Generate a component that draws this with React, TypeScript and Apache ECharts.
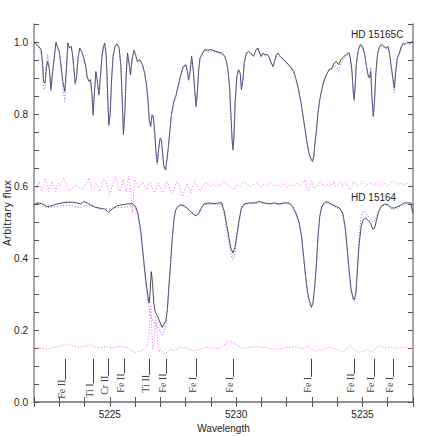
import React, { useEffect, useRef } from 'react';
import * as echarts from 'echarts';

const X_MIN = 5222;
const X_MAX = 5237;
const Y_MIN = 0;
const Y_MAX = 1.05;
const xTickLabels = [5225, 5230, 5235];
const yTickLabels = [0.0, 0.2, 0.4, 0.6, 0.8, 1.0];

// [wavelength, observed, model]
const hd15165c: [number, number, number][] = [
  [5222.00,1.000,0.998],[5222.19,0.988,0.985],[5222.28,0.979,0.970],[5222.34,0.942,0.930],
  [5222.38,0.891,0.868],[5222.44,0.886,0.872],[5222.49,0.928,0.940],[5222.54,0.946,0.965],
  [5222.61,0.923,0.925],[5222.67,0.869,0.862],[5222.74,0.918,0.915],[5222.82,0.969,0.965],
  [5222.87,0.999,0.990],[5222.94,0.983,0.985],[5223.00,0.974,0.972],[5223.08,0.928,0.920],
  [5223.15,0.886,0.870],[5223.22,0.863,0.835],[5223.28,0.923,0.915],[5223.34,0.997,0.990],
  [5223.40,0.983,0.986],[5223.47,0.988,0.985],[5223.52,0.969,0.966],[5223.57,0.932,0.928],
  [5223.63,0.886,0.880],[5223.68,0.900,0.902],[5223.75,0.960,0.958],[5223.81,0.983,0.980],
  [5223.88,0.974,0.976],[5223.97,0.956,0.952],[5224.05,0.932,0.930],[5224.10,0.905,0.900],
  [5224.17,0.891,0.893],[5224.24,0.895,0.890],[5224.29,0.858,0.850],[5224.34,0.798,0.795],
  [5224.39,0.858,0.862],[5224.45,0.918,0.915],[5224.50,0.895,0.893],[5224.57,0.854,0.850],
  [5224.62,0.895,0.898],[5224.69,0.960,0.957],[5224.75,0.988,0.985],[5224.80,0.997,0.994],
  [5224.86,0.960,0.955],[5224.91,0.867,0.862],[5224.96,0.770,0.765],[5225.02,0.803,0.806],
  [5225.07,0.895,0.892],[5225.13,0.960,0.962],[5225.21,0.988,0.986],[5225.29,0.995,0.992],
  [5225.37,0.983,0.980],[5225.44,0.932,0.928],[5225.49,0.840,0.835],[5225.54,0.743,0.740],
  [5225.60,0.812,0.815],[5225.65,0.914,0.910],[5225.70,0.969,0.965],[5225.77,0.937,0.935],
  [5225.82,0.909,0.906],[5225.89,0.956,0.958],[5225.96,0.977,0.974],[5226.02,0.965,0.962],
  [5226.09,0.946,0.948],[5226.19,0.951,0.947],[5226.29,0.937,0.934],[5226.38,0.914,0.910],
  [5226.46,0.877,0.874],[5226.52,0.831,0.828],[5226.56,0.784,0.780],[5226.62,0.766,0.762],
  [5226.67,0.798,0.795],[5226.72,0.794,0.790],[5226.78,0.747,0.745],[5226.83,0.692,0.690],
  [5226.88,0.664,0.660],[5226.93,0.701,0.698],[5226.99,0.733,0.730],[5227.04,0.729,0.727],
  [5227.09,0.692,0.688],[5227.14,0.655,0.652],[5227.21,0.645,0.642],[5227.26,0.673,0.670],
  [5227.32,0.710,0.707],[5227.38,0.756,0.752],[5227.44,0.798,0.795],[5227.52,0.831,0.828],
  [5227.61,0.849,0.846],[5227.70,0.877,0.872],[5227.81,0.909,0.905],[5227.91,0.932,0.930],
  [5228.01,0.937,0.934],[5228.07,0.918,0.915],[5228.12,0.895,0.890],[5228.18,0.918,0.920],
  [5228.24,0.960,0.955],[5228.31,0.918,0.915],[5228.36,0.867,0.862],[5228.42,0.821,0.818],
  [5228.47,0.867,0.870],[5228.52,0.923,0.920],[5228.57,0.956,0.953],[5228.67,0.969,0.966],
  [5228.76,0.979,0.976],[5228.87,0.977,0.974],[5229.00,0.979,0.976],[5229.20,0.974,0.971],
  [5229.43,0.969,0.966],[5229.56,0.960,0.957],[5229.66,0.932,0.928],[5229.74,0.877,0.872],
  [5229.79,0.803,0.798],[5229.84,0.729,0.725],[5229.88,0.701,0.698],[5229.92,0.747,0.744],
  [5229.96,0.831,0.828],[5230.03,0.905,0.902],[5230.09,0.923,0.920],[5230.16,0.914,0.912],
  [5230.21,0.868,0.872],[5230.27,0.895,0.898],[5230.32,0.942,0.940],[5230.40,0.969,0.966],
  [5230.49,0.974,0.972],[5230.58,0.969,0.967],[5230.69,0.960,0.962],[5230.79,0.979,0.975],
  [5230.87,0.983,0.980],[5230.93,0.969,0.966],[5230.99,0.960,0.958],[5231.06,0.969,0.966],
  [5231.15,0.965,0.962],[5231.24,0.965,0.963],[5231.32,0.956,0.953],[5231.39,0.942,0.938],
  [5231.46,0.932,0.930],[5231.52,0.946,0.944],[5231.59,0.965,0.962],[5231.66,0.969,0.966],
  [5231.75,0.960,0.958],[5231.88,0.951,0.948],[5232.01,0.942,0.940],[5232.14,0.932,0.930],
  [5232.28,0.918,0.915],[5232.38,0.895,0.892],[5232.47,0.868,0.865],[5232.57,0.831,0.828],
  [5232.65,0.794,0.790],[5232.73,0.756,0.752],[5232.81,0.719,0.716],[5232.88,0.692,0.688],
  [5232.96,0.675,0.672],[5233.02,0.669,0.666],[5233.07,0.682,0.679],[5233.12,0.719,0.716],
  [5233.18,0.756,0.753],[5233.24,0.803,0.800],[5233.31,0.840,0.837],[5233.39,0.868,0.866],
  [5233.47,0.891,0.888],[5233.57,0.909,0.906],[5233.68,0.923,0.920],[5233.80,0.928,0.925],
  [5233.89,0.942,0.935],[5233.97,0.946,0.930],[5234.06,0.937,0.920],[5234.15,0.951,0.940],
  [5234.26,0.960,0.955],[5234.37,0.965,0.962],[5234.47,0.971,0.968],[5234.52,0.956,0.950],
  [5234.58,0.923,0.918],[5234.63,0.868,0.862],[5234.67,0.840,0.835],[5234.71,0.877,0.874],
  [5234.76,0.942,0.940],[5234.84,0.979,0.976],[5234.92,0.993,0.990],[5235.00,0.988,0.985],
  [5235.08,0.969,0.966],[5235.16,0.932,0.930],[5235.23,0.905,0.906],[5235.28,0.900,0.905],
  [5235.33,0.918,0.930],[5235.37,0.849,0.845],[5235.43,0.794,0.790],[5235.48,0.840,0.836],
  [5235.53,0.914,0.910],[5235.60,0.969,0.966],[5235.68,0.988,0.985],[5235.77,0.993,0.990],
  [5235.85,0.988,0.985],[5235.93,0.983,0.980],[5236.01,0.988,0.985],[5236.07,0.969,0.965],
  [5236.14,0.932,0.928],[5236.21,0.895,0.888],[5236.26,0.872,0.860],[5236.31,0.914,0.910],
  [5236.38,0.956,0.952],[5236.46,0.969,0.966],[5236.54,0.988,0.985],[5236.62,0.997,0.994],
  [5236.69,0.993,0.990],[5236.77,0.999,0.996],[5236.88,0.997,0.994],[5237.00,1.002,0.999],
];

// [wavelength, residual (offset)]
const hd15165cResidual: [number, number][] = [
  [5222.00,0.599],[5222.09,0.594],[5222.19,0.613],[5222.25,0.599],[5222.32,0.585],[5222.38,0.604],
  [5222.45,0.622],[5222.52,0.608],[5222.58,0.585],[5222.65,0.599],[5222.71,0.613],[5222.78,0.599],
  [5222.85,0.585],[5222.94,0.608],[5223.02,0.599],[5223.11,0.613],[5223.18,0.622],[5223.24,0.613],
  [5223.31,0.590],[5223.42,0.585],[5223.51,0.594],[5223.60,0.599],[5223.71,0.604],[5223.81,0.594],
  [5223.90,0.590],[5224.00,0.599],[5224.08,0.608],[5224.17,0.622],[5224.24,0.608],[5224.30,0.585],
  [5224.37,0.590],[5224.45,0.608],[5224.53,0.599],[5224.61,0.585],[5224.69,0.604],[5224.76,0.622],
  [5224.84,0.613],[5224.92,0.594],[5225.00,0.576],[5225.08,0.599],[5225.16,0.613],[5225.24,0.627],
  [5225.32,0.599],[5225.40,0.585],[5225.47,0.599],[5225.53,0.618],[5225.60,0.599],[5225.66,0.585],
  [5225.73,0.627],[5225.80,0.604],[5225.85,0.571],[5225.89,0.525],[5225.93,0.562],[5225.98,0.618],
  [5226.06,0.608],[5226.14,0.594],[5226.22,0.608],[5226.30,0.613],[5226.38,0.599],[5226.46,0.590],
  [5226.54,0.604],[5226.62,0.608],[5226.70,0.590],[5226.78,0.581],[5226.85,0.599],[5226.93,0.608],
  [5227.01,0.594],[5227.09,0.581],[5227.17,0.594],[5227.25,0.613],[5227.33,0.604],[5227.41,0.585],
  [5227.49,0.581],[5227.57,0.599],[5227.65,0.613],[5227.73,0.604],[5227.81,0.581],[5227.89,0.571],
  [5227.96,0.590],[5228.05,0.608],[5228.12,0.594],[5228.20,0.581],[5228.28,0.599],[5228.36,0.613],
  [5228.47,0.599],[5228.57,0.585],[5228.68,0.599],[5228.79,0.608],[5228.89,0.604],[5229.00,0.599],
  [5229.13,0.604],[5229.26,0.599],[5229.39,0.604],[5229.50,0.613],[5229.63,0.604],[5229.76,0.599],
  [5229.90,0.590],[5230.03,0.604],[5230.16,0.599],[5230.29,0.613],[5230.42,0.604],[5230.56,0.599],
  [5230.69,0.604],[5230.82,0.608],[5230.95,0.599],[5231.09,0.604],[5231.22,0.599],[5231.35,0.608],
  [5231.48,0.599],[5231.61,0.604],[5231.75,0.599],[5231.88,0.608],[5232.01,0.594],[5232.14,0.604],
  [5232.28,0.599],[5232.41,0.608],[5232.54,0.599],[5232.67,0.613],[5232.74,0.618],[5232.81,0.594],
  [5232.87,0.585],[5232.94,0.604],[5233.00,0.613],[5233.07,0.594],[5233.20,0.599],[5233.33,0.613],
  [5233.47,0.599],[5233.60,0.604],[5233.73,0.599],[5233.86,0.613],[5233.93,0.599],[5234.00,0.604],
  [5234.13,0.613],[5234.19,0.599],[5234.26,0.608],[5234.39,0.604],[5234.50,0.590],[5234.59,0.599],
  [5234.66,0.613],[5234.72,0.608],[5234.79,0.599],[5234.90,0.604],[5234.99,0.613],[5235.05,0.608],
  [5235.12,0.599],[5235.19,0.604],[5235.32,0.608],[5235.45,0.604],[5235.58,0.608],[5235.72,0.599],
  [5235.85,0.608],[5235.98,0.599],[5236.11,0.608],[5236.24,0.613],[5236.38,0.604],[5236.51,0.608],
  [5236.64,0.604],[5236.77,0.608],[5236.91,0.604],[5237.00,0.601],
];

// [wavelength, observed, model]
const hd15164: [number, number, number][] = [
  [5222.00,0.548,0.546],[5222.12,0.553,0.550],[5222.32,0.551,0.545],[5222.51,0.543,0.540],
  [5222.71,0.545,0.541],[5222.91,0.550,0.543],[5223.11,0.553,0.545],[5223.31,0.555,0.547],
  [5223.51,0.555,0.545],[5223.70,0.553,0.541],[5223.84,0.550,0.540],[5223.97,0.557,0.545],
  [5224.10,0.553,0.547],[5224.23,0.548,0.545],[5224.43,0.541,0.540],[5224.63,0.538,0.535],
  [5224.79,0.536,0.538],[5224.96,0.527,0.536],[5225.09,0.536,0.538],[5225.29,0.545,0.540],
  [5225.49,0.548,0.540],[5225.69,0.550,0.543],[5225.89,0.551,0.546],[5226.02,0.543,0.538],
  [5226.11,0.525,0.520],[5226.22,0.478,0.470],[5226.32,0.410,0.400],[5226.42,0.340,0.330],
  [5226.51,0.293,0.280],[5226.56,0.275,0.258],[5226.60,0.310,0.240],[5226.64,0.362,0.236],
  [5226.69,0.332,0.230],[5226.74,0.275,0.224],[5226.80,0.249,0.218],[5226.88,0.240,0.210],
  [5226.99,0.221,0.196],[5227.07,0.207,0.186],[5227.15,0.217,0.196],[5227.22,0.226,0.218],
  [5227.28,0.258,0.255],[5227.34,0.323,0.320],[5227.41,0.388,0.385],[5227.47,0.455,0.450],
  [5227.54,0.508,0.505],[5227.60,0.532,0.530],[5227.67,0.541,0.540],[5227.81,0.548,0.546],
  [5227.94,0.545,0.543],[5228.07,0.538,0.536],[5228.20,0.529,0.530],[5228.33,0.520,0.523],
  [5228.43,0.517,0.522],[5228.53,0.525,0.528],[5228.62,0.538,0.540],[5228.73,0.550,0.548],
  [5228.93,0.553,0.550],[5229.13,0.551,0.549],[5229.33,0.553,0.550],[5229.42,0.554,0.548],
  [5229.53,0.530,0.522],[5229.63,0.490,0.478],[5229.72,0.455,0.440],[5229.79,0.428,0.410],
  [5229.87,0.414,0.395],[5229.95,0.428,0.412],[5230.03,0.465,0.455],[5230.12,0.506,0.500],
  [5230.21,0.539,0.535],[5230.32,0.550,0.548],[5230.52,0.553,0.551],[5230.72,0.553,0.550],
  [5230.91,0.557,0.553],[5231.11,0.553,0.551],[5231.31,0.551,0.549],[5231.51,0.553,0.550],
  [5231.71,0.550,0.548],[5231.91,0.553,0.551],[5232.10,0.553,0.550],[5232.24,0.543,0.540],
  [5232.37,0.525,0.521],[5232.50,0.497,0.492],[5232.59,0.460,0.455],[5232.67,0.404,0.398],
  [5232.75,0.349,0.342],[5232.83,0.303,0.296],[5232.91,0.279,0.272],[5232.98,0.264,0.262],
  [5233.04,0.275,0.272],[5233.11,0.321,0.318],[5233.18,0.386,0.384],[5233.24,0.460,0.458],
  [5233.31,0.516,0.514],[5233.39,0.543,0.541],[5233.49,0.553,0.550],[5233.60,0.557,0.552],
  [5233.69,0.553,0.549],[5233.82,0.548,0.545],[5233.96,0.543,0.540],[5234.09,0.539,0.535],
  [5234.22,0.525,0.520],[5234.31,0.488,0.482],[5234.39,0.432,0.425],[5234.47,0.367,0.360],
  [5234.55,0.312,0.305],[5234.63,0.289,0.282],[5234.68,0.284,0.280],[5234.74,0.303,0.300],
  [5234.80,0.367,0.372],[5234.87,0.441,0.462],[5234.95,0.488,0.515],[5235.03,0.506,0.530],
  [5235.11,0.511,0.528],[5235.21,0.506,0.518],[5235.32,0.497,0.508],[5235.41,0.480,0.500],
  [5235.48,0.483,0.502],[5235.56,0.506,0.516],[5235.64,0.529,0.532],[5235.74,0.543,0.541],
  [5235.87,0.550,0.547],[5236.01,0.548,0.545],[5236.14,0.539,0.537],[5236.27,0.539,0.536],
  [5236.40,0.543,0.540],[5236.54,0.548,0.545],[5236.67,0.553,0.550],[5236.80,0.553,0.550],
  [5236.91,0.553,0.548],[5237.00,0.525,0.520],
];

const hd15164Residual: [number, number][] = [
  [5222.00,0.152],[5222.25,0.149],[5222.52,0.147],[5222.78,0.152],[5223.04,0.156],[5223.31,0.161],
  [5223.51,0.156],[5223.71,0.152],[5223.97,0.154],[5224.23,0.158],[5224.43,0.152],[5224.63,0.151],
  [5224.90,0.154],[5225.09,0.150],[5225.29,0.154],[5225.49,0.154],[5225.69,0.152],[5225.89,0.142],
  [5226.02,0.138],[5226.22,0.142],[5226.35,0.147],[5226.48,0.152],[5226.55,0.184],[5226.59,0.240],
  [5226.62,0.270],[5226.66,0.200],[5226.70,0.147],[5226.75,0.166],[5226.81,0.240],[5226.88,0.184],
  [5226.95,0.138],[5227.01,0.147],[5227.14,0.133],[5227.28,0.138],[5227.41,0.147],[5227.54,0.142],
  [5227.74,0.150],[5227.94,0.152],[5228.14,0.147],[5228.33,0.142],[5228.60,0.147],[5228.80,0.152],
  [5229.00,0.150],[5229.20,0.149],[5229.39,0.150],[5229.56,0.161],[5229.70,0.170],[5229.83,0.166],
  [5229.96,0.161],[5230.09,0.156],[5230.29,0.149],[5230.56,0.152],[5230.82,0.154],[5231.09,0.152],
  [5231.35,0.149],[5231.61,0.147],[5231.88,0.150],[5232.14,0.152],[5232.41,0.154],[5232.61,0.147],
  [5232.74,0.152],[5232.87,0.156],[5233.00,0.145],[5233.14,0.140],[5233.27,0.145],[5233.40,0.142],
  [5233.53,0.149],[5233.73,0.152],[5233.93,0.147],[5234.13,0.142],[5234.26,0.139],[5234.39,0.149],
  [5234.52,0.156],[5234.66,0.145],[5234.79,0.140],[5234.92,0.138],[5235.05,0.142],[5235.19,0.147],
  [5235.32,0.140],[5235.45,0.142],[5235.58,0.152],[5235.71,0.156],[5235.91,0.150],[5236.11,0.152],
  [5236.38,0.150],[5236.64,0.151],[5236.91,0.149],[5237.00,0.149],
];

// Line identifications
const lineIds = ['Fe II', 'Ti I', 'Cr II', 'Fe II', 'Ti II', 'Fe II', 'Fe I', 'Fe I', 'Fe I', 'Fe II', 'Fe I', 'Fe I'];
const lineWaves = [5223.21, 5224.33, 5224.94, 5225.56, 5226.55, 5227.24, 5228.40, 5229.88, 5232.98, 5234.66, 5235.45, 5236.22];
const lineLabelBase = [0.009, 0.012, 0.02, 0.026, 0.026, 0.026, 0.026, 0.026, 0.026, 0.026, 0.026, 0.026];
const MARK_TOP = 0.12;

const starNames = ['HD 15165C', 'HD 15164'];
const starLabelWave = [5234.55, 5234.55];
const starLabelFlux = [1.02, 0.568];

const LABEL_FONT = '10px "Liberation Serif"';
const SANS = 'Liberation Sans';

let measureCtx: CanvasRenderingContext2D | null = null;
function textWidth(s: string, font: string): number {
  if (!measureCtx) measureCtx = document.createElement('canvas').getContext('2d');
  if (!measureCtx) return s.length * 5;
  measureCtx.font = font;
  return measureCtx.measureText(s).width;
}

const near = (arr: number[], v: number) => arr.some((t) => Math.abs(t - v) < 1e-6);

export default function App() {
  const ref = useRef<HTMLDivElement>(null);
  useEffect(() => {
    if (!ref.current) return;
    const chart = echarts.init(ref.current, null, { renderer: 'svg' });
    const axisLine = { show: true, lineStyle: { color: '#8a8a8a', width: 1.5 } };
    const axisTick = { show: true, inside: true, length: 5, lineStyle: { color: '#555', width: 1 } };
    const xBase = { type: 'value', min: X_MIN, max: X_MAX, interval: 1, splitLine: { show: false } };
    const yBase = { type: 'value', min: Y_MIN, max: Y_MAX, interval: 0.05, splitLine: { show: false } };
    const option: any = {
      animation: false,
      backgroundColor: '#fff',
      grid: { left: 34, right: 23, top: 24, bottom: 34, containLabel: false, outerBoundsMode: 'none' },
      xAxis: [
        {
          ...xBase,
          position: 'bottom',
          axisLine,
          axisTick,
          axisLabel: {
            margin: 7,
            color: '#222',
            fontFamily: SANS,
            fontSize: 10,
            formatter: (v: number) => (near(xTickLabels, v) ? String(Math.round(v)) : ''),
          },
          name: 'Wavelength',
          nameLocation: 'middle',
          nameGap: 21,
          nameMoveOverlap: false,
          nameTextStyle: { color: '#222', fontFamily: SANS, fontSize: 10 },
        },
        { ...xBase, position: 'top', axisLine, axisTick, axisLabel: { show: false } },
      ],
      yAxis: [
        {
          ...yBase,
          position: 'left',
          axisLine,
          axisTick,
          axisLabel: {
            margin: 6,
            color: '#222',
            fontFamily: SANS,
            fontSize: 10,
            formatter: (v: number) => (near(yTickLabels, v) ? v.toFixed(1) : ''),
          },
          name: 'Arbitrary flux',
          nameLocation: 'middle',
          nameGap: 22,
          nameMoveOverlap: false,
          nameTextStyle: { color: '#222', fontFamily: 'DejaVu Sans', fontSize: 10 },
        },
        { ...yBase, position: 'right', axisLine, axisTick, axisLabel: { show: false } },
      ],
      series: [
        {
          type: 'line', name: 'HD 15165C residual', showSymbol: false, silent: true,
          data: hd15165cResidual.map((d) => [d[0], d[1]]),
          lineStyle: { color: '#ff66ff', width: 1, type: [1, 2] },
        },
        {
          type: 'line', name: 'HD 15164 residual', showSymbol: false, silent: true,
          data: hd15164Residual.map((d) => [d[0], d[1]]),
          lineStyle: { color: '#ff66ff', width: 1, type: [1, 2] },
        },
        {
          type: 'line', name: 'HD 15165C observed', showSymbol: false, silent: true,
          data: hd15165c.map((d) => [d[0], d[1]]),
          lineStyle: { color: '#3a3a3a', width: 0.9 },
        },
        {
          type: 'line', name: 'HD 15164 observed', showSymbol: false, silent: true,
          data: hd15164.map((d) => [d[0], d[1]]),
          lineStyle: { color: '#3a3a3a', width: 0.9 },
        },
        {
          type: 'line', name: 'HD 15165C model', showSymbol: false, silent: true,
          data: hd15165c.map((d) => [d[0], d[2]]),
          lineStyle: { color: '#6a6aff', width: 1, type: [1, 2] },
        },
        {
          type: 'line', name: 'HD 15164 model', showSymbol: false, silent: true,
          data: hd15164.map((d) => [d[0], d[2]]),
          lineStyle: { color: '#6a6aff', width: 1, type: [1, 2] },
        },
        {
          type: 'custom', name: 'line ids', silent: true, clip: false,
          coordinateSystem: 'cartesian2d',
          data: lineWaves.map((w, i) => [w, lineLabelBase[i]]),
          encode: { x: 0, y: 1 },
          renderItem: (params: any, api: any) => {
            const i = params.dataIndex;
            const w = api.value(0);
            const top = api.coord([w, MARK_TOP]);
            const base = api.coord([w, api.value(1)]);
            const label = lineIds[i];
            const tw = textWidth(label, LABEL_FONT);
            const x = Math.round(top[0]) + 0.5;
            return {
              type: 'group',
              children: [
                {
                  type: 'line',
                  shape: { x1: x, y1: top[1], x2: x, y2: base[1] - tw },
                  style: { stroke: '#444', lineWidth: 1 },
                },
                {
                  type: 'text',
                  x: x + 1,
                  y: base[1],
                  rotation: Math.PI / 2,
                  style: { text: label, font: LABEL_FONT, fill: '#444', align: 'left', verticalAlign: 'bottom' },
                },
              ],
            };
          },
        },
        {
          type: 'custom', name: 'star names', silent: true, clip: false,
          coordinateSystem: 'cartesian2d',
          data: starNames.map((_, i) => [starLabelWave[i], starLabelFlux[i]]),
          encode: { x: 0, y: 1 },
          renderItem: (params: any, api: any) => {
            const p = api.coord([api.value(0), api.value(1)]);
            return {
              type: 'text',
              x: p[0],
              y: p[1],
              style: {
                text: starNames[params.dataIndex],
                font: `10px "${SANS}"`,
                fill: '#222',
                align: 'left',
                verticalAlign: 'middle',
              },
            };
          },
        },
      ],
    };
    chart.setOption(option);
    return () => chart.dispose();
  }, []);
  return <div ref={ref} style={{ position: 'fixed', left: 0, top: 0, width: 436, height: 436 }} />;
}
